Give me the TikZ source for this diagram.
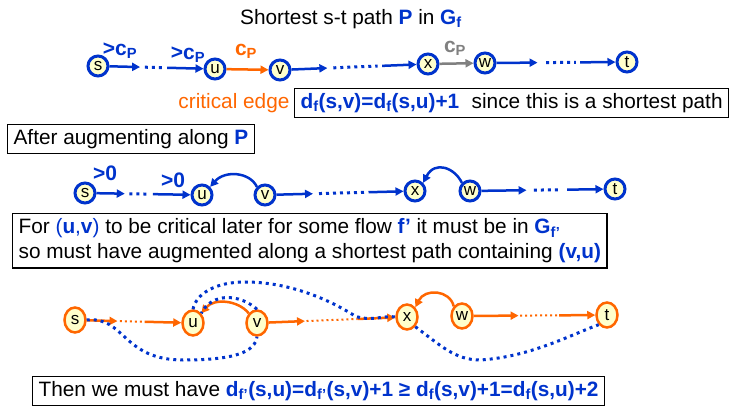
\documentclass[tikz,border=0pt]{standalone}
\usepackage{fontspec}
\setmainfont{Liberation Sans}
\usepackage{tikz}
\usetikzlibrary{arrows.meta,calc,positioning,shapes.geometric}
\definecolor{pblue}{RGB}{0,51,204}
\definecolor{porange}{RGB}{255,102,0}
\definecolor{pgray}{RGB}{128,128,128}
\definecolor{nodefill}{RGB}{255,255,204}
\newcommand\hl[1]{\textcolor{pblue}{\textbf{#1}}}
\newcommand\df[1]{d\textsubscript{#1}}

\begin{document}
\begin{tikzpicture}[x=1pt,y=-1pt,
  font=\fontsize{20.8}{25}\selectfont,
  vtx/.style={circle,draw=pblue,line width=3,fill=nodefill,inner sep=0pt,minimum size=20,font=\fontsize{17}{17}\selectfont},
  overt/.style={ellipse,draw=porange,line width=2.5,fill=nodefill,inner sep=0pt,minimum width=21,minimum height=25,font=\fontsize{17}{17}\selectfont},
  edge/.style={-{Triangle[length=8,width=8]},line width=2.5},
  dots/.style={line width=3,dash pattern=on 3pt off 4pt},
  odots/.style={line width=2,dash pattern=on 2pt off 3pt},
  textbox/.style={draw,line width=1.2,inner xsep=6,inner ysep=5},
  elabel/.style={font=\fontsize{21}{21}\selectfont\bfseries}
]
\useasboundingbox (0,0) rectangle (730,411);

\node (title) at (351,19) {Shortest s-t path \hl{P} in \hl{G\textsubscript{f}}};

% shortest path P in G_f
\node[vtx] (s1) at (98,66) {s};
\node[vtx] (u1) at (215,69) {u};
\node[vtx] (v1) at (280,70) {v};
\node[vtx] (x1) at (428,64) {x};
\node[vtx] (w1) at (485,63) {w};
\node[vtx] (t1) at (627,62) {t};

\draw[edge,pblue] (s1) -- ($(s1)!0.36!(u1)$);
\draw[dots,pblue] ($(s1)!0.40!(u1)$) -- ($(s1)!0.56!(u1)$);
\draw[edge,pblue] ($(s1)!0.59!(u1)$) -- (u1);
\draw[edge,porange] (u1) -- (v1);
\draw[edge,pblue] (v1) -- ($(v1)!0.32!(x1)$);
\draw[dots,pblue] ($(v1)!0.36!(x1)$) -- ($(v1)!0.66!(x1)$);
\draw[edge,pblue] ($(v1)!0.69!(x1)$) -- (x1);
\draw[edge,pgray] (x1) -- (w1);
\draw[edge,pblue] (w1) -- ($(w1)!0.37!(t1)$);
\draw[dots,pblue] ($(w1)!0.43!(t1)$) -- ($(w1)!0.64!(t1)$);
\draw[edge,pblue] ($(w1)!0.67!(t1)$) -- (t1);

\node[elabel,text=pblue] (c1) at (120,51) {>c\textsubscript{P}};
\node[elabel,text=pblue] (c2) at (188,55) {>c\textsubscript{P}};
\node[elabel,text=porange] (c3) at (246,51) {c\textsubscript{P}};
\node[elabel,text=pgray] (c4) at (455,48) {c\textsubscript{P}};

\node[textbox,anchor=west] (eq1) at (294,103) {\hl{\df{f}(s,v)=\df{f}(s,u)+1}\hspace{0.6em}since this is a shortest path};
\node[left=1pt of eq1,text=porange] (crit) {critical edge};

\node[textbox,anchor=west] (aug) at (7,139) {After augmenting along \hl{P}};

% after augmenting
\node[vtx] (s2) at (85,193) {s};
\node[vtx] (u2) at (202,195) {u};
\node[vtx] (v2) at (265,195) {v};
\node[vtx] (x2) at (415,191) {x};
\node[vtx] (w2) at (470,191) {w};
\node[vtx] (t2) at (615,189) {t};

\draw[edge,pblue] (s2) -- ($(s2)!0.34!(u2)$);
\draw[dots,pblue] ($(s2)!0.38!(u2)$) -- ($(s2)!0.54!(u2)$);
\draw[edge,pblue] ($(s2)!0.58!(u2)$) -- (u2);
\draw[edge,pblue] (v2.north west) .. controls (250,172) and (225,170) .. (u2.north east);
\draw[edge,pblue] (v2) -- ($(v2)!0.32!(x2)$);
\draw[dots,pblue] ($(v2)!0.36!(x2)$) -- ($(v2)!0.66!(x2)$);
\draw[edge,pblue] ($(v2)!0.69!(x2)$) -- (x2);
\draw[edge,pblue] (w2.north west) .. controls (455,168) and (435,160) .. (x2.north east);
\draw[edge,pblue] (w2) -- ($(w2)!0.39!(t2)$);
\draw[dots,pblue] ($(w2)!0.44!(t2)$) -- ($(w2)!0.63!(t2)$);
\draw[edge,pblue] ($(w2)!0.67!(t2)$) -- (t2);

\node[elabel,text=pblue] (z1) at (105,173) {>0};
\node[elabel,text=pblue] (z2) at (173,180) {>0};

\node[textbox,anchor=north west,align=left] (crit2) at (12,213) {For \textcolor{pblue}{(\textbf{u},\textbf{v})} to be critical later for some flow \hl{f’} it must be in \hl{G\textsubscript{f’}}\\so must have augmented along a shortest path containing \hl{(v,u)}};

% later flow f'
\node[overt] (s3) at (75,320) {s};
\node[overt] (u3) at (193,323) {u};
\node[overt] (v3) at (257,323) {v};
\node[overt] (x3) at (407,317) {x};
\node[overt] (w3) at (462,316) {w};
\node[overt] (t3) at (607,315) {t};

\draw[edge,porange] (s3) -- ($(s3)!0.36!(u3)$);
\draw[odots,porange] ($(s3)!0.38!(u3)$) -- ($(s3)!0.58!(u3)$);
\draw[edge,porange] ($(s3)!0.59!(u3)$) -- (u3);
\draw[edge,porange] (v3.north west) .. controls (238,300) and (214,298) .. (u3.north east);
\draw[edge,porange] (v3) -- ($(v3)!0.32!(x3)$);
\draw[odots,porange] ($(v3)!0.33!(x3)$) -- ($(v3)!0.67!(x3)$);
\draw[edge,porange] ($(v3)!0.67!(x3)$) -- (x3);
\draw[edge,porange] (w3.north west) .. controls (450,290) and (425,288) .. (x3.north east);
\draw[edge,porange] (w3) -- ($(w3)!0.39!(t3)$);
\draw[odots,porange] ($(w3)!0.40!(t3)$) -- ($(w3)!0.67!(t3)$);
\draw[edge,porange] ($(w3)!0.67!(t3)$) -- (t3);

\draw[dots,pblue] (s3.east) .. controls (125,316) and (122,360) .. (183,360)
  .. controls (235,360) and (255,352) .. (v3.south);
\draw[dots,pblue] (v3.north) .. controls (240,294) and (212,292) .. (u3.north east);
\draw[dots,pblue] (u3.north) .. controls (196,294) and (215,282) .. (245,282)
  .. controls (290,282) and (330,300) .. (355,316) .. controls (370,322) and (385,315) .. (x3.west);
\draw[dots,pblue] (x3.south east) .. controls (440,345) and (455,360) .. (480,360)
  .. controls (530,357) and (570,335) .. (t3.south west);

\node[textbox,anchor=west] (concl) at (32,391) {Then we must have \hl{\df{f’}(s,u)=\df{f’}(s,v)+1 ≥ \df{f}(s,v)+1=\df{f}(s,u)+2}};
\end{tikzpicture}
\end{document}
